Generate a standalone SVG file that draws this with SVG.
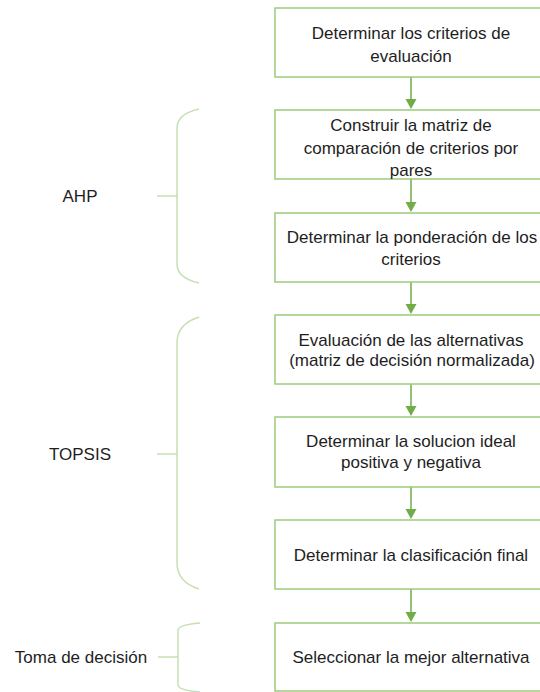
<svg xmlns="http://www.w3.org/2000/svg" width="540" height="692" viewBox="0 0 540 692">
<style>
.box{fill:#ffffff;stroke:#9ccb7c;stroke-width:1.5}
.t{font-family:"Liberation Sans",Arial,sans-serif;font-size:17px;fill:#1e1e1e;text-anchor:middle}
.lbl{font-family:"Liberation Sans",Arial,sans-serif;font-size:17px;fill:#1e1e1e;text-anchor:middle}
.brace{fill:none;stroke:#c6e0b5;stroke-width:1.5}
.conn{stroke:#70ad47;stroke-width:1.5;fill:none}
.head{fill:#70ad47}
</style>
<rect width="540" height="692" fill="#ffffff"/>
<g id="connectors">
<line class="conn" x1="411" y1="77" x2="411" y2="100"/><polygon class="head" points="405.5,99 416.5,99 411,109"/>
<line class="conn" x1="411" y1="179" x2="411" y2="203"/><polygon class="head" points="405.5,202 416.5,202 411,212"/>
<line class="conn" x1="411" y1="282" x2="411" y2="305"/><polygon class="head" points="405.5,304 416.5,304 411,314"/>
<line class="conn" x1="411" y1="384" x2="411" y2="407"/><polygon class="head" points="405.5,406 416.5,406 411,416"/>
<line class="conn" x1="411" y1="487" x2="411" y2="510"/><polygon class="head" points="405.5,509 416.5,509 411,519"/>
<line class="conn" x1="411" y1="589" x2="411" y2="613"/><polygon class="head" points="405.5,612 416.5,612 411,622"/>
</g>
<g id="n1"><rect class="box" x="275" y="8" width="275" height="69"/>
<text class="t" x="411" y="39">Determinar los criterios de</text><text class="t" x="411" y="61.5">evaluación</text></g>
<g id="n2"><rect class="box" x="275" y="110" width="275" height="69"/>
<text class="t" x="411" y="131">Construir la matriz de</text><text class="t" x="411" y="153.5">comparación de criterios por</text><text class="t" x="411" y="176">pares</text></g>
<g id="n3"><rect class="box" x="275" y="213" width="275" height="69"/>
<text class="t" x="412" y="243">Determinar la ponderación de los</text><text class="t" x="411" y="264.5">criterios</text></g>
<g id="n4"><rect class="box" x="275" y="315" width="275" height="69"/>
<text class="t" x="411" y="346">Evaluación de las alternativas</text><text class="t" x="412" y="366">(matriz de decisión normalizada)</text></g>
<g id="n5"><rect class="box" x="275" y="417" width="275" height="70"/>
<text class="t" x="411" y="447">Determinar la solucion ideal</text><text class="t" x="411" y="468">positiva y negativa</text></g>
<g id="n6"><rect class="box" x="275" y="520" width="275" height="69"/>
<text class="t" x="411" y="561">Determinar la clasificación final</text></g>
<g id="n7"><rect class="box" x="275" y="623" width="275" height="68"/>
<text class="t" x="411" y="663">Seleccionar la mejor alternativa</text></g>
<g id="ahp">
<path class="brace" d="M199,109 Q177,114 177,128 L177,264 Q177,278 199,283 M157,196 L177,196"/>
<text class="lbl" x="80" y="202">AHP</text></g>
<g id="topsis">
<path class="brace" d="M199,317 Q177,324 177,343 L177,563 Q177,582 199,589 M157,454 L177,454"/>
<text class="lbl" x="80" y="460">TOPSIS</text></g>
<g id="toma">
<path class="brace" d="M200,623 Q178,625 178,630 L178,685 Q178,690 200,692 M158,657 L178,657"/>
<text class="lbl" x="81" y="663">Toma de decisión</text></g>
</svg>
